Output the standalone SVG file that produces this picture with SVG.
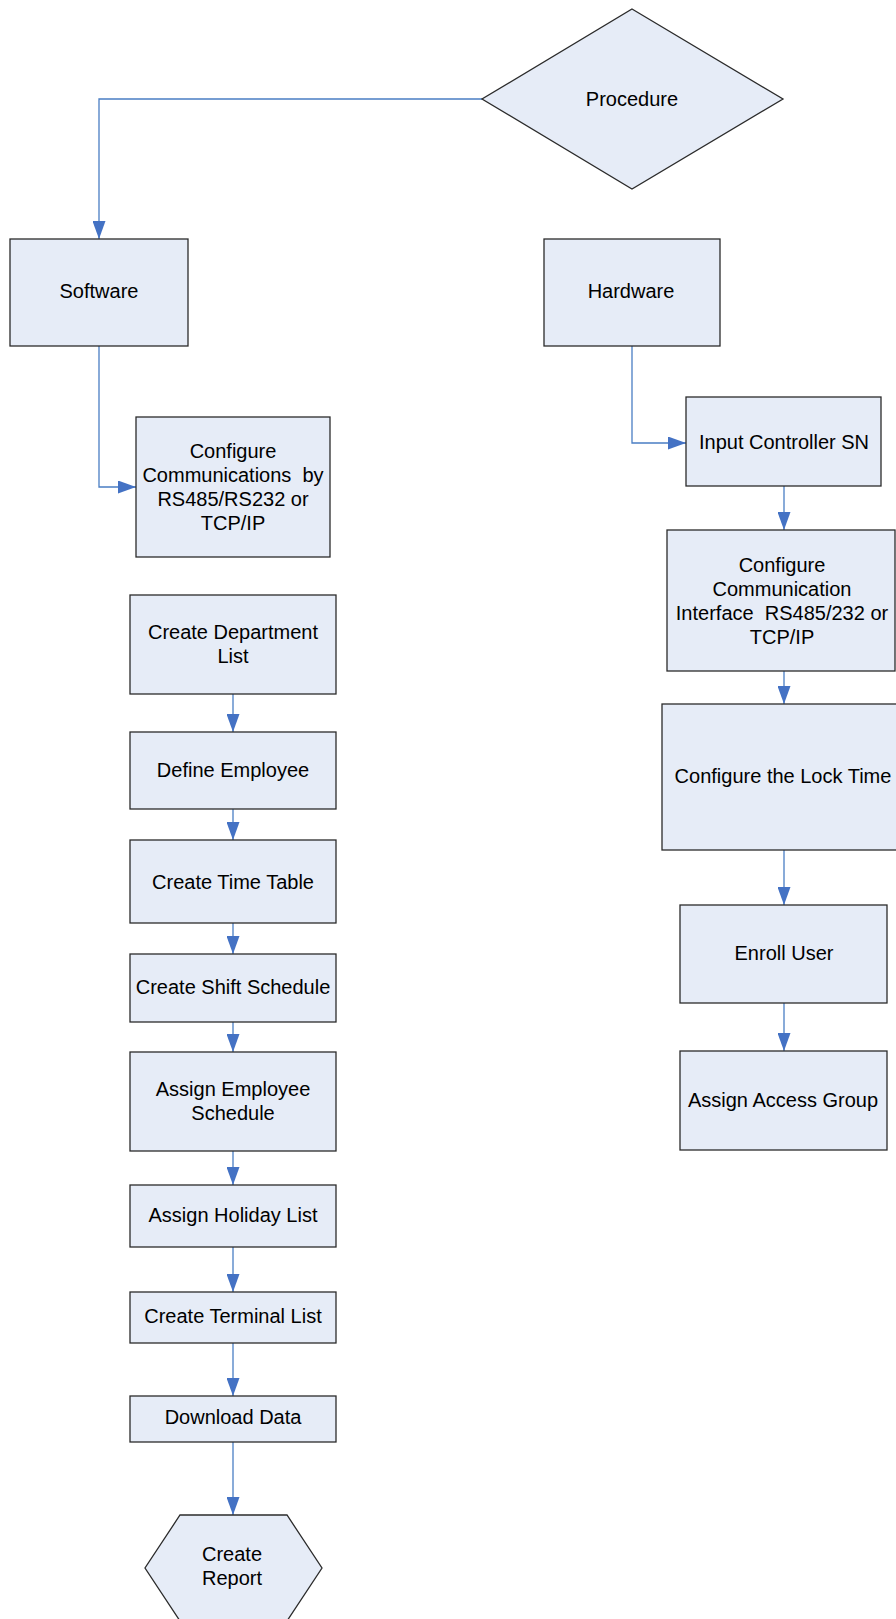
<svg xmlns="http://www.w3.org/2000/svg" width="896" height="1619" viewBox="0 0 896 1619">
<defs>
<marker id="arr" markerWidth="18" markerHeight="13" refX="18" refY="6.5" viewBox="0 0 18 13" markerUnits="userSpaceOnUse" orient="auto">
<path d="M0,0 L18,6.5 L0,13 Z" fill="#4472C4"/>
</marker>
<style>
.n{fill:#E6ECF7;stroke:#2b2b2b;stroke-width:1.3}
.t{font-family:"Liberation Sans",Arial,sans-serif;font-size:20px;fill:#000;text-anchor:middle;white-space:pre}
.c{fill:none;stroke:#4A7EC4;stroke-width:1.3}
</style>
</defs>
<rect width="896" height="1619" fill="#fff"/>
<g id="connectors">
<path class="c" d="M482,99 H99 V239" marker-end="url(#arr)"/>
<path class="c" d="M99,346 V487 H136" marker-end="url(#arr)"/>
<path class="c" d="M632,346 V443 H686" marker-end="url(#arr)"/>
<path class="c" d="M784,486 V530" marker-end="url(#arr)"/>
<path class="c" d="M784,671 V704" marker-end="url(#arr)"/>
<path class="c" d="M784,850 V905" marker-end="url(#arr)"/>
<path class="c" d="M784,1003 V1051" marker-end="url(#arr)"/>
<path class="c" d="M233,694 V732" marker-end="url(#arr)"/>
<path class="c" d="M233,809 V840" marker-end="url(#arr)"/>
<path class="c" d="M233,923 V954" marker-end="url(#arr)"/>
<path class="c" d="M233,1022 V1052" marker-end="url(#arr)"/>
<path class="c" d="M233,1151 V1185" marker-end="url(#arr)"/>
<path class="c" d="M233,1247 V1292" marker-end="url(#arr)"/>
<path class="c" d="M233,1343 V1396" marker-end="url(#arr)"/>
<path class="c" d="M233,1442 V1515" marker-end="url(#arr)"/>
</g>
<g id="procedure">
<polygon class="n" points="632,9 783,99 632,189 482,99"/>
<text class="t" x="632" y="106">Procedure</text>
</g>
<g id="software">
<rect class="n" x="10" y="239" width="178" height="107"/>
<text class="t" x="99" y="298">Software</text>
</g>
<g id="hardware">
<rect class="n" x="544" y="239" width="176" height="107"/>
<text class="t" x="631" y="298">Hardware</text>
</g>
<g id="configure-comm-sw">
<rect class="n" x="136" y="417" width="194" height="140"/>
<text class="t" x="233" y="458">Configure</text>
<text class="t" x="233" y="482" xml:space="preserve">Communications  by</text>
<text class="t" x="233" y="506">RS485/RS232 or</text>
<text class="t" x="233" y="530">TCP/IP</text>
</g>
<g id="input-controller">
<rect class="n" x="686" y="397" width="195" height="89"/>
<text class="t" x="784" y="449">Input Controller SN</text>
</g>
<g id="configure-comm-hw">
<rect class="n" x="667" y="530" width="228" height="141"/>
<text class="t" x="782" y="572">Configure</text>
<text class="t" x="782" y="596">Communication</text>
<text class="t" x="782" y="620" xml:space="preserve">Interface  RS485/232 or</text>
<text class="t" x="782" y="644">TCP/IP</text>
</g>
<g id="lock-time">
<rect class="n" x="662" y="704" width="240" height="146"/>
<text class="t" x="783" y="783">Configure the Lock Time</text>
</g>
<g id="enroll-user">
<rect class="n" x="680" y="905" width="207" height="98"/>
<text class="t" x="784" y="960">Enroll User</text>
</g>
<g id="access-group">
<rect class="n" x="680" y="1051" width="207" height="99"/>
<text class="t" x="783" y="1107">Assign Access Group</text>
</g>
<g id="department">
<rect class="n" x="130" y="595" width="206" height="99"/>
<text class="t" x="233" y="639">Create Department</text>
<text class="t" x="233" y="663">List</text>
</g>
<g id="define-employee">
<rect class="n" x="130" y="732" width="206" height="77"/>
<text class="t" x="233" y="777">Define Employee</text>
</g>
<g id="time-table">
<rect class="n" x="130" y="840" width="206" height="83"/>
<text class="t" x="233" y="889">Create Time Table</text>
</g>
<g id="shift-schedule">
<rect class="n" x="130" y="954" width="206" height="68"/>
<text class="t" x="233" y="994">Create Shift Schedule</text>
</g>
<g id="employee-schedule">
<rect class="n" x="130" y="1052" width="206" height="99"/>
<text class="t" x="233" y="1096">Assign Employee</text>
<text class="t" x="233" y="1120">Schedule</text>
</g>
<g id="holiday-list">
<rect class="n" x="130" y="1185" width="206" height="62"/>
<text class="t" x="233" y="1222">Assign Holiday List</text>
</g>
<g id="terminal-list">
<rect class="n" x="130" y="1292" width="206" height="51"/>
<text class="t" x="233" y="1323">Create Terminal List</text>
</g>
<g id="download-data">
<rect class="n" x="130" y="1396" width="206" height="46"/>
<text class="t" x="233" y="1424">Download Data</text>
</g>
<g id="create-report">
<polygon class="n" points="180,1515 287,1515 322,1568 287,1621 180,1621 145,1568"/>
<text class="t" x="232" y="1561">Create</text>
<text class="t" x="232" y="1585">Report</text>
</g>
</svg>
